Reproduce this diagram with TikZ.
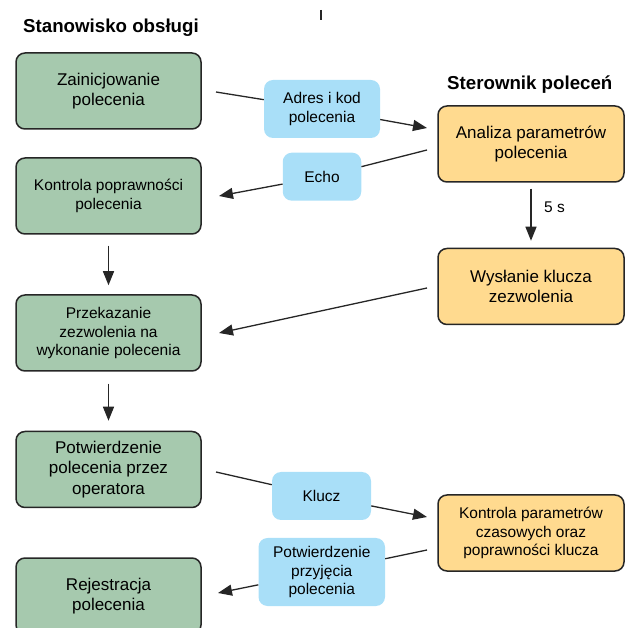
\documentclass[tikz,border=0pt]{standalone}
\usepackage{fontspec}
\setmainfont{Liberation Sans}
\usetikzlibrary{arrows.meta}
\definecolor{boxgreen}{HTML}{A6C9AE}
\definecolor{boxorange}{HTML}{FFDA8F}
\definecolor{boxblue}{HTML}{A9DFF8}
\definecolor{edge}{HTML}{262626}
\begin{document}
\begin{tikzpicture}[x=1pt,y=-1pt,
  big/.style={font=\fontsize{17}{20.5}\selectfont},
  small/.style={font=\fontsize{15.5}{18.5}\selectfont},
  gbox/.style={draw=edge, line width=1.5pt, fill=boxgreen, rounded corners=9pt,
    minimum width=185pt, minimum height=76pt, align=center, inner sep=0pt, text=black},
  obox/.style={gbox, fill=boxorange, minimum width=186pt},
  lbl/.style={fill=boxblue, rounded corners=9pt, align=center, inner sep=0pt, small},
  conn/.style={line width=1.3pt, draw=edge},
  arr/.style={conn, -{Triangle[length=14pt,width=11pt]}},
  title/.style={font=\fontsize{18.7}{22}\selectfont\bfseries, anchor=base west, inner sep=0pt}
]
\useasboundingbox (0,0) rectangle (638,628);
\clip (0,0) rectangle (638,628);

% stray mark
\draw[line width=1.2pt, draw=edge] (321,10) -- (321,20);

% titles
\node[title] (t1) at (23,33) {Stanowisko obsługi};
\node[title] (t2) at (447,90) {Sterownik poleceń};

% left column
\node[gbox,big] (z) at (108.5,91) {Zainicjowanie\\polecenia};
\node[gbox,small] (kp) at (108.5,196) {Kontrola poprawności\\polecenia};
\node[gbox,small] (pz) at (108.5,333) {Przekazanie\\zezwolenia na\\wykonanie polecenia};
\node[gbox,big] (po) at (108.5,469.5) {Potwierdzenie\\polecenia przez\\operatora};
\node[gbox,big] (rj) at (108.5,596) {Rejestracja\\polecenia};

% right column
\node[obox,big] (an) at (531,144) {Analiza parametrów\\polecenia};
\node[obox,big] (wk) at (531,286.5) {Wysłanie klucza\\zezwolenia};
\node[obox,small] (kc) at (531,533) {Kontrola parametrów\\czasowych oraz\\poprawności klucza};

% message labels
\node[lbl, minimum width=116pt, minimum height=58pt] (adr) at (322,109) {Adres i kod\\polecenia};
\node[lbl, minimum width=78.5pt, minimum height=48pt] (echo) at (322,176.7) {Echo};
\node[lbl, minimum width=99pt, minimum height=48pt] (kl) at (321.5,496) {Klucz};
\node[lbl, minimum width=126.5pt, minimum height=68pt] (pp) at (321.75,572) {Potwierdzenie\\przyjęcia\\polecenia};

% connector end points
\coordinate (s1) at (216,92);  \coordinate (e1) at (427,128);
\coordinate (s2) at (427,150); \coordinate (e2) at (219,196);
\coordinate (s3) at (427,288); \coordinate (e3) at (219,333);
\coordinate (s4) at (216,472); \coordinate (e4) at (427,517);
\coordinate (s5) at (427,550); \coordinate (e5) at (218,593);

% messages
\draw[conn] (s1) -- (adr);
\draw[arr] (adr) -- (e1);
\draw[conn] (s2) -- (echo);
\draw[arr] (echo) -- (e2);
\draw[arr] (s3) -- (e3);
\draw[conn] (s4) -- (kl);
\draw[arr] (kl) -- (e4);
\draw[conn] (s5) -- (pp);
\draw[arr] (pp) -- (e5);

% vertical flow
\draw[arr] ([yshift=-11pt]kp.south) -- ([yshift=9pt]pz.north);
\draw[arr] ([yshift=-12pt]pz.south) -- ([yshift=10pt]po.north);
\draw[arr] ([yshift=-6pt]an.south) -- ([yshift=7pt]wk.north);
\node[small, anchor=west, inner sep=0pt] (fs) at (544,207) {5 s};
\end{tikzpicture}
\end{document}
